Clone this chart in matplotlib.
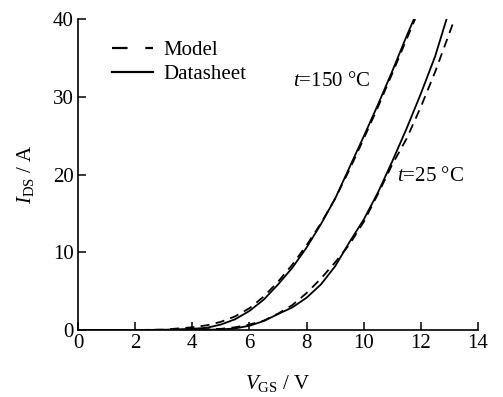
import matplotlib
matplotlib.use("Agg")
import matplotlib.pyplot as plt
from matplotlib.lines import Line2D

plt.rcParams['font.family'] = ['Liberation Serif', 'DejaVu Serif']
plt.rcParams['mathtext.fontset'] = 'custom'
plt.rcParams['mathtext.rm'] = 'Liberation Serif'
plt.rcParams['mathtext.it'] = 'Liberation Serif:italic'

# 150 °C
v150_ds = [0, 2, 3, 4, 4.5, 5, 5.5, 6, 6.5, 7, 7.5, 8, 8.5, 9, 9.5, 10, 10.5, 11, 11.5, 11.76]
i150_ds = [0, 0, 0.03, 0.15, 0.28, 0.7, 1.38, 2.45, 3.9, 5.85, 8.0, 10.6, 13.6, 16.9, 20.9, 24.9, 29.0, 33.3, 37.8, 40]
v150_md = [0, 2, 3, 4, 4.5, 5, 5.5, 6, 6.5, 7, 7.5, 8, 8.5, 9, 9.5, 10, 10.5, 11, 11.5, 11.8]
i150_md = [0, 0, 0.05, 0.35, 0.6, 1.05, 1.75, 2.8, 4.3, 6.2, 8.4, 10.9, 13.7, 16.9, 20.6, 24.6, 28.7, 33.0, 37.4, 40]
# 25 °C
v25_ds = [0, 3, 4, 5, 5.5, 6, 6.5, 7, 7.5, 8, 8.5, 9, 9.5, 10, 10.5, 11, 11.5, 12, 12.5, 12.9]
i25_ds = [0, 0, 0.0, 0.07, 0.2, 0.55, 1.15, 2.05, 2.9, 4.15, 5.85, 8.2, 11.3, 14.2, 17.7, 21.7, 25.9, 30.4, 35.2, 40]
v25_md = [0, 3, 4, 5, 5.5, 6, 6.5, 7, 7.5, 8, 8.5, 9, 9.5, 10, 10.5, 11, 11.5, 12, 12.5, 13, 13.15]
i25_md = [0, 0, 0.03, 0.15, 0.35, 0.7, 1.2, 2.1, 3.2, 4.75, 6.6, 8.7, 11.0, 13.9, 17.5, 21.3, 24.6, 28.7, 33.2, 38.2, 39.7]

legend_labels = ['Model', 'Datasheet']

fig = plt.figure(figsize=(5.03, 3.97), dpi=100)
ax = fig.add_axes([78/503, 67/397, 400/503, 311/397])

lw = 1.3
dash = (0, (5, 3.5))
ax.plot(v150_md, i150_md, color='black', lw=lw, linestyle=dash)
ax.plot(v150_ds, i150_ds, color='black', lw=lw)
ax.plot(v25_md, i25_md, color='black', lw=lw, linestyle=dash)
ax.plot(v25_ds, i25_ds, color='black', lw=lw)

ax.set_xlim(0, 14)
ax.set_ylim(0, 40)
ax.set_xticks([0, 2, 4, 6, 8, 10, 12, 14])
ax.set_yticks([0, 10, 20, 30, 40])
for s in ['top', 'right']:
    ax.spines[s].set_visible(False)
for s in ['left', 'bottom']:
    ax.spines[s].set_linewidth(1.2)
ax.tick_params(direction='in', length=6, width=1.1, labelsize=15, pad=3)

ax.set_xlabel(r'$V_{\rm GS}$ / V', fontsize=15, labelpad=14)
ax.set_ylabel(r'$I_{\rm DS}$ / A', fontsize=15, labelpad=12)

ax.text(7.52, 31.9, r'$t$=150 °C', fontsize=15, ha='left', va='center')
ax.text(11.17, 19.7, r'$t$=25 °C', fontsize=15, ha='left', va='center')

handles = [Line2D([], [], color='black', lw=1.6, linestyle=(0, (7.0, 8.0))),
           Line2D([], [], color='black', lw=1.6)]
leg = ax.legend(handles, legend_labels, loc='upper left', bbox_to_anchor=(0.064, 0.957),
                frameon=False, fontsize=15, handlelength=1.97, handletextpad=0.48,
                labelspacing=0.2, borderaxespad=0)

fig.savefig('out.png', dpi=100)
